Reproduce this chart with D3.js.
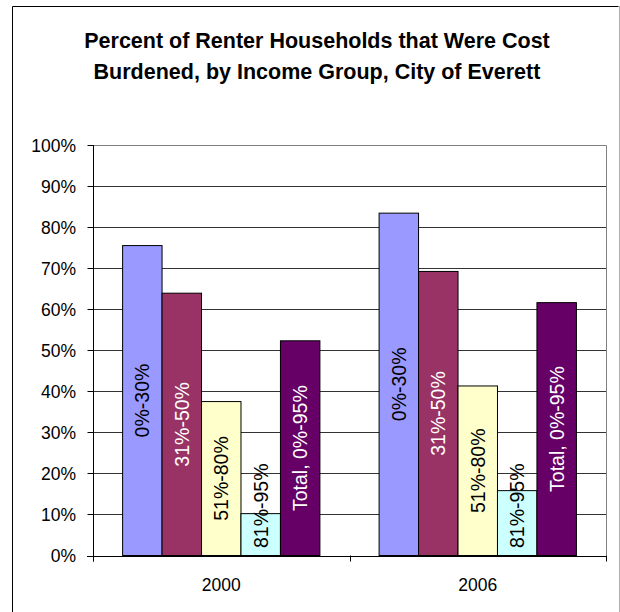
<!DOCTYPE html>
<html>
<head>
<meta charset="utf-8">
<script src="https://cdn.jsdelivr.net/npm/d3@7"></script>
<style>
  html, body { margin: 0; padding: 0; background: #fff; }
  svg { display: block; font-family: "Liberation Sans", Arial, sans-serif; }
</style>
</head>
<body>
<svg id="chart" width="620" height="612"></svg>
<script>
// Cost-burdened renter households by income group, City of Everett
const years = ["2000", "2006"];
const groups = ["0%-30%", "31%-50%", "51%-80%", "81%-95%", "Total, 0%-95%"];
const colors = ["#9999FF", "#993366", "#FFFFCC", "#CCFFFF", "#660066"];
const labelColors = ["#000", "#fff", "#000", "#000", "#fff"];
const values2000 = [0.755, 0.639, 0.375, 0.102, 0.523];
const values2006 = [0.834, 0.692, 0.413, 0.158, 0.616];
const yTicks = [0, 0.1, 0.2, 0.3, 0.4, 0.5, 0.6, 0.7, 0.8, 0.9, 1.0];
const titleLines = ["Percent of Renter Households that Were Cost",
                    "Burdened, by Income Group, City of Everett"];

const seriesByYear = [values2000, values2006];

const svg = d3.select("#chart");
svg.append("rect").attr("width", 620).attr("height", 612).attr("fill", "#fff");

// outer chart frame (bottom edge runs past the page)
svg.append("path")
  .attr("d", "M12.5,620V6.5H618.5")
  .attr("fill", "none").attr("stroke", "#000").attr("stroke-width", 1);
svg.append("line")
  .attr("x1", 619.5).attr("x2", 619.5).attr("y1", 6).attr("y2", 612)
  .attr("stroke", "#b0b0b0").attr("stroke-width", 1);

// title
const title = svg.append("text")
  .attr("text-anchor", "middle")
  .attr("font-weight", "bold")
  .attr("font-size", 21.5)
  .attr("fill", "#000");
titleLines.forEach((t, i) => {
  title.append("tspan").attr("x", 317).attr("y", 48 + i * 31).text(t);
});

// plot geometry
const plot = { left: 93, right: 606, top: 145, bottom: 555.5 };

const x = d3.scaleBand().domain(years).range([plot.left, plot.right]).padding(0);
const bw = x.bandwidth();
const gap = bw * 0.75 / 6.5;
const xi = d3.scaleBand().domain(groups).range([gap, bw - gap]).padding(0);
const y = d3.scaleLinear().domain([0, 1]).range([plot.bottom, plot.top]);

// horizontal gridlines
svg.append("g").selectAll("line")
  .data(yTicks.slice(1, -1))
  .join("line")
  .attr("x1", plot.left).attr("x2", plot.right)
  .attr("y1", d => Math.round(y(d)) + 0.5).attr("y2", d => Math.round(y(d)) + 0.5)
  .attr("stroke", "#333").attr("stroke-width", 1);

// plot area border (top & right)
svg.append("path")
  .attr("d", `M${plot.left},${Math.round(plot.top) + 0.5}H${plot.right + 0.5}V${plot.bottom}`)
  .attr("fill", "none").attr("stroke", "#808080").attr("stroke-width", 1);

// bars
const groupsG = svg.append("g").selectAll("g")
  .data(years)
  .join("g")
  .attr("transform", d => `translate(${x(d)},0)`);

const bars = groupsG.selectAll("g.bar")
  .data((yr, yi) => groups.map((g, gi) => ({ yr, g, gi, v: seriesByYear[yi][gi] })))
  .join("g").attr("class", "bar");

bars.append("rect")
  .attr("x", d => xi(d.g))
  .attr("y", d => y(d.v))
  .attr("width", xi.bandwidth())
  .attr("height", d => y(0) - y(d.v))
  .attr("fill", (d) => colors[d.gi])
  .attr("stroke", "#000").attr("stroke-width", 1);

// vertical data labels, centred in the bar but kept clear of the axis
bars.append("text")
  .attr("font-size", 19.5)
  .attr("fill", d => labelColors[d.gi])
  .attr("text-anchor", "middle")
  .attr("dominant-baseline", "central")
  .text(d => d.g)
  .each(function (d) {
    const len = this.getComputedTextLength();
    let cy = (y(d.v) + y(0)) / 2;
    const maxCy = y(0) - 7.5 - len / 2;
    if (cy > maxCy) cy = maxCy;
    const cx = xi(d.g) + xi.bandwidth() / 2;
    d3.select(this).attr("transform", `translate(${cx},${cy}) rotate(-90)`);
  });

// y axis
const yAxis = svg.append("g").attr("transform", `translate(${plot.left + 0.5},0)`);
yAxis.append("line")
  .attr("y1", plot.top).attr("y2", plot.bottom + 6)
  .attr("stroke", "#000");
yAxis.selectAll("line.tick")
  .data(yTicks)
  .join("line").attr("class", "tick")
  .attr("x1", -6).attr("x2", 0)
  .attr("y1", d => Math.round(y(d)) + 0.5).attr("y2", d => Math.round(y(d)) + 0.5)
  .attr("stroke", "#000");
yAxis.selectAll("text")
  .data(yTicks)
  .join("text")
  .attr("x", -17.5)
  .attr("y", d => y(d) + 6.5)
  .attr("text-anchor", "end")
  .attr("font-size", 17.5)
  .attr("fill", "#000")
  .text(d => d3.format(".0%")(d));

// x axis
const xAxis = svg.append("g");
xAxis.append("line")
  .attr("x1", plot.left - 6).attr("x2", plot.right)
  .attr("y1", Math.round(plot.bottom) + 0.5).attr("y2", Math.round(plot.bottom) + 0.5)
  .attr("stroke", "#000");
xAxis.selectAll("line.tick")
  .data([...years.map(d => x(d)), plot.right])
  .join("line").attr("class", "tick")
  .attr("x1", d => Math.round(d) + 0.5).attr("x2", d => Math.round(d) + 0.5)
  .attr("y1", plot.bottom).attr("y2", plot.bottom + 6)
  .attr("stroke", "#000");
xAxis.selectAll("text")
  .data(years)
  .join("text")
  .attr("x", d => x(d) + bw / 2)
  .attr("y", 591)
  .attr("text-anchor", "middle")
  .attr("font-size", 17.5)
  .attr("fill", "#000")
  .text(d => d);
</script>
</body>
</html>
